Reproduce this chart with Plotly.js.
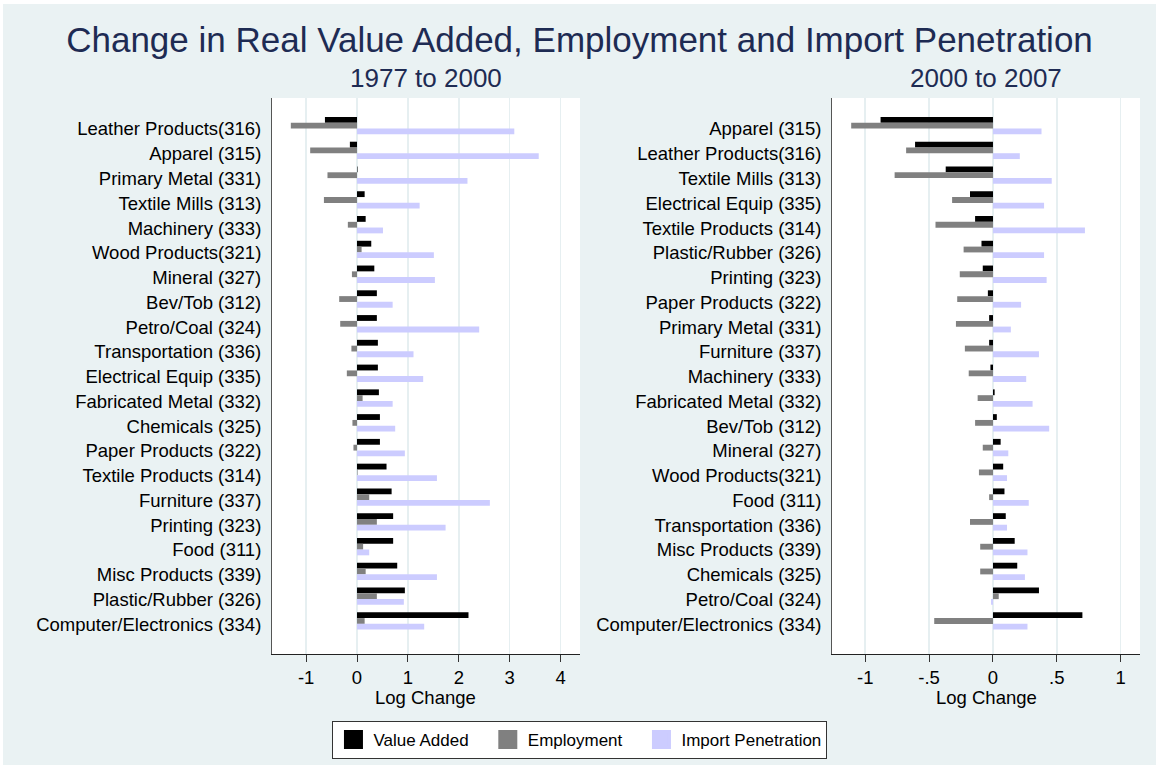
<!DOCTYPE html>
<html>
<head>
<meta charset="utf-8">
<script src="https://cdn.plot.ly/plotly-3.0.1.min.js"></script>
<style>
html,body{margin:0;padding:0;background:#ffffff;}
#wrap{position:absolute;left:3px;top:4px;width:1153px;height:761px;border-left:1px solid #c8cccd;border-top:1px solid #c8cccd;box-sizing:border-box;}
#chart{position:absolute;left:-1px;top:-1px;width:1153px;height:761px;}
</style>
</head>
<body>
<div id="wrap"><div id="chart"></div></div>
<script>
// Panel 1: 1977 to 2000
const cats1 = ["Leather Products(316)","Apparel (315)","Primary Metal (331)","Textile Mills (313)","Machinery (333)","Wood Products(321)","Mineral (327)","Bev/Tob (312)","Petro/Coal (324)","Transportation (336)","Electrical Equip (335)","Fabricated Metal (332)","Chemicals (325)","Paper Products (322)","Textile Products (314)","Furniture (337)","Printing (323)","Food (311)","Misc Products (339)","Plastic/Rubber (326)","Computer/Electronics (334)"];
const va1  = [-0.63,-0.14,0.01,0.15,0.17,0.28,0.34,0.39,0.39,0.41,0.41,0.43,0.45,0.45,0.58,0.68,0.71,0.71,0.79,0.94,2.19];
const emp1 = [-1.30,-0.92,-0.58,-0.65,-0.18,0.09,-0.10,-0.35,-0.33,-0.11,-0.20,0.11,-0.09,-0.07,0.01,0.24,0.39,0.12,0.17,0.39,0.15];
const imp1 = [3.09,3.57,2.17,1.23,0.51,1.51,1.53,0.70,2.40,1.11,1.30,0.70,0.75,0.94,1.57,2.61,1.74,0.24,1.57,0.92,1.32];

// Panel 2: 2000 to 2007
const cats2 = ["Apparel (315)","Leather Products(316)","Textile Mills (313)","Electrical Equip (335)","Textile Products (314)","Plastic/Rubber (326)","Printing (323)","Paper Products (322)","Primary Metal (331)","Furniture (337)","Machinery (333)","Fabricated Metal (332)","Bev/Tob (312)","Mineral (327)","Wood Products(321)","Food (311)","Transportation (336)","Misc Products (339)","Chemicals (325)","Petro/Coal (324)","Computer/Electronics (334)"];
const va2  = [-0.88,-0.61,-0.37,-0.18,-0.14,-0.09,-0.08,-0.04,-0.03,-0.03,-0.02,0.013,0.03,0.06,0.08,0.09,0.10,0.17,0.19,0.36,0.70];
const emp2 = [-1.11,-0.68,-0.77,-0.32,-0.45,-0.23,-0.26,-0.28,-0.29,-0.22,-0.19,-0.12,-0.14,-0.08,-0.11,-0.03,-0.18,-0.10,-0.10,0.045,-0.46];
const imp2 = [0.38,0.21,0.46,0.40,0.72,0.40,0.42,0.22,0.14,0.36,0.26,0.31,0.44,0.12,0.11,0.28,0.11,0.27,0.25,-0.015,0.27];

const seriesNames = ["Value Added","Employment","Import Penetration"];
const colors = ["#000000","#808080","#ccccff"];
const offsets = [-0.485,-0.25,-0.02];
const barW = 0.235;

const traces = [];
[[va1,emp1,imp1],[va2,emp2,imp2]].forEach((set,p)=>{
  const cats = p===0?cats1:cats2;
  set.forEach((vals,i)=>{
    traces.push({
      type:'bar', orientation:'h', x:vals, y:cats,
      xaxis: p===0?'x':'x2', yaxis: p===0?'y':'y2',
      marker:{color:colors[i], line:{width:0}},
      width:barW, offset:offsets[i],
      showlegend:false, hoverinfo:'x+y', name:seriesNames[i]
    });
  });
});
// legend proxies
const pad = '\u00a0\u00a0\u00a0';
seriesNames.forEach((n,i)=>{
  traces.push({type:'scatter', mode:'markers', x:[null], y:[null], xaxis:'x', yaxis:'y',
    name: i<2 ? n+pad : n, marker:{symbol:'square', size:16, color:colors[i], line:{width:3,color:colors[i]}}, showlegend:true});
});

const font = "Liberation Sans, Arial, sans-serif";
const navy = "#1e2b53";
const yax = {
  type:'category', range:[21.2,-1.25], showgrid:false, zeroline:false,
  showline:true, linecolor:'#555555', linewidth:1, ticks:'', ticklabelstandoff:6,
  tickfont:{family:font,size:18.5,color:'#000000'}
};
const xax = {
  showgrid:true, gridcolor:'#e6eff1', gridwidth:1.5, zeroline:false,
  showline:true, linecolor:'#222222', linewidth:1, ticks:'outside', ticklen:7, tickcolor:'#333333',
  tickfont:{family:font,size:18.5,color:'#000000'}
};
const axTitleFont = {family:font,size:18.5,color:'#000000'};
const subFont = {family:font,size:26,color:navy};
const layout = {
  width:1153, height:761,
  paper_bgcolor:'#eaf2f3', plot_bgcolor:'#ffffff',
  margin:{l:269,r:16,t:94,b:111, autoexpand:false},
  barmode:'overlay',
  font:{family:font},
  title:{text:'Change in Real Value Added, Employment and Import Penetration', font:{family:font,size:35,color:navy}, x:0.5, xanchor:'center', y:0.9527, yanchor:'middle'},
  xaxis:Object.assign({}, xax, {domain:[0,0.3548], range:[-1.67,4.38], tickvals:[-1,0,1,2,3,4], ticktext:['-1','0','1','2','3','4']}),
  xaxis2:Object.assign({}, xax, {domain:[0.6452,1], range:[-1.26,1.151], tickvals:[-1,-0.5,0,0.5,1], ticktext:['-1','-.5','0','.5','1'], anchor:'y2'}),
  yaxis:Object.assign({}, yax, {anchor:'x'}),
  yaxis2:Object.assign({}, yax, {anchor:'x2', side:'left'}),
  annotations:[
    {text:'1977 to 2000', xref:'x domain', yref:'paper', x:0.5, y:1, xanchor:'center', yanchor:'middle', yshift:20, showarrow:false, font:subFont},
    {text:'2000 to 2007', xref:'x2 domain', yref:'paper', x:0.5, y:1, xanchor:'center', yanchor:'middle', yshift:20, showarrow:false, font:subFont},
    {text:'Log Change', xref:'x domain', yref:'paper', x:0.5, y:0, xanchor:'center', yanchor:'middle', yshift:-43, showarrow:false, font:axTitleFont},
    {text:'Log Change', xref:'x2 domain', yref:'paper', x:0.5, y:0, xanchor:'center', yanchor:'middle', yshift:-43, showarrow:false, font:axTitleFont}
  ],
  legend:{orientation:'h', xref:'container', yref:'container', x:0.5004, xanchor:'center', y:0.0578, yanchor:'top',
    bgcolor:'#ffffff', bordercolor:'#333333', borderwidth:1,
    font:{family:font,size:17,color:'#000000'}, itemclick:false, itemdoubleclick:false},
  showlegend:true
};
Plotly.newPlot('chart', traces, layout, {displayModeBar:false, staticPlot:true});
</script>
</body>
</html>
